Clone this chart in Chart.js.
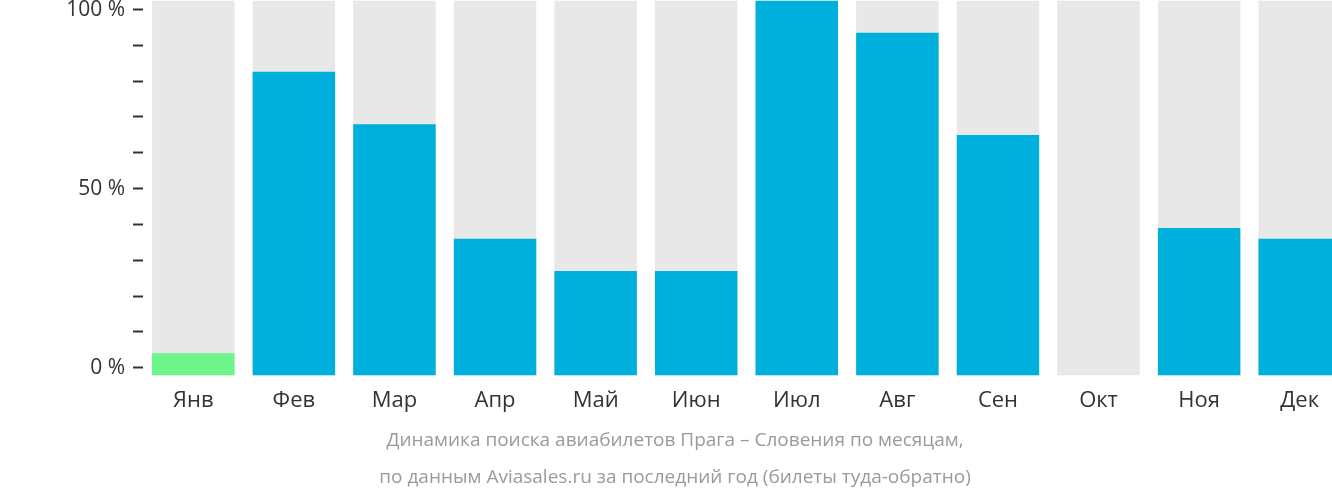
<!DOCTYPE html><html><head><meta charset="utf-8">
<script src="https://cdn.jsdelivr.net/npm/chart.js@4"></script>
<style>html,body{margin:0;padding:0;overflow:hidden;background:#fff}#w{width:1350px;height:522px;margin-top:-20px}</style>
</head><body><div id="w"><canvas id="c"></canvas></div>
<script>
const months=["Янв","Фев","Мар","Апр","Май","Июн","Июл","Авг","Сен","Окт","Ноя","Дек"];
const values=[4,82.6,68,36,27,27,102.5,93.5,65,0,39,36];
const barColors=["#6df58a","#00b0dc","#00b0dc","#00b0dc","#00b0dc","#00b0dc","#00b0dc","#00b0dc","#00b0dc","#00b0dc","#00b0dc","#00b0dc"];
const yMin=-2.2,yMax=102.5;
const tickValues=[0,10,20,30,40,50,60,70,80,90,100];
const labeledTicks=[0,50,100];
const titleLines=["Динамика поиска авиабилетов Прага – Словения по месяцам,","по данным Aviasales.ru за последний год (билеты туда-обратно)"];
new Chart(document.getElementById('c'),{type:'bar',
data:{labels:months,datasets:[
{data:values.map(v=>v>0?[yMin,v]:null),backgroundColor:barColors,categoryPercentage:1,barPercentage:0.82,grouped:false,order:0},
{data:months.map(()=>[yMin,yMax]),backgroundColor:'#e8e8e8',categoryPercentage:1,barPercentage:0.82,grouped:false,order:1}]},
options:{responsive:true,maintainAspectRatio:false,animation:false,
layout:{padding:{top:0,right:0,bottom:6,left:0}},
plugins:{legend:{display:false},tooltip:{enabled:false},
title:{display:true,position:'bottom',text:titleLines,color:'#9a9a9a',font:{family:'Open Sans',size:19,weight:'normal',lineHeight:1.95},padding:{top:4,bottom:0}}},
scales:{
x:{grid:{display:false},border:{display:false},ticks:{color:'#333',font:{family:'Open Sans',size:22},padding:4}},
y:{min:yMin,max:yMax,afterBuildTicks:a=>{a.ticks=tickValues.map(v=>({value:v}));},
afterFit:a=>{a.width=143;},
border:{display:false},
grid:{drawOnChartArea:false,tickLength:10,tickColor:'#333',tickWidth:2},
ticks:{color:'#333',font:{family:'Open Sans',size:21},padding:8,callback:v=>labeledTicks.includes(v)?v+' %':''}}}}});
</script></body></html>
